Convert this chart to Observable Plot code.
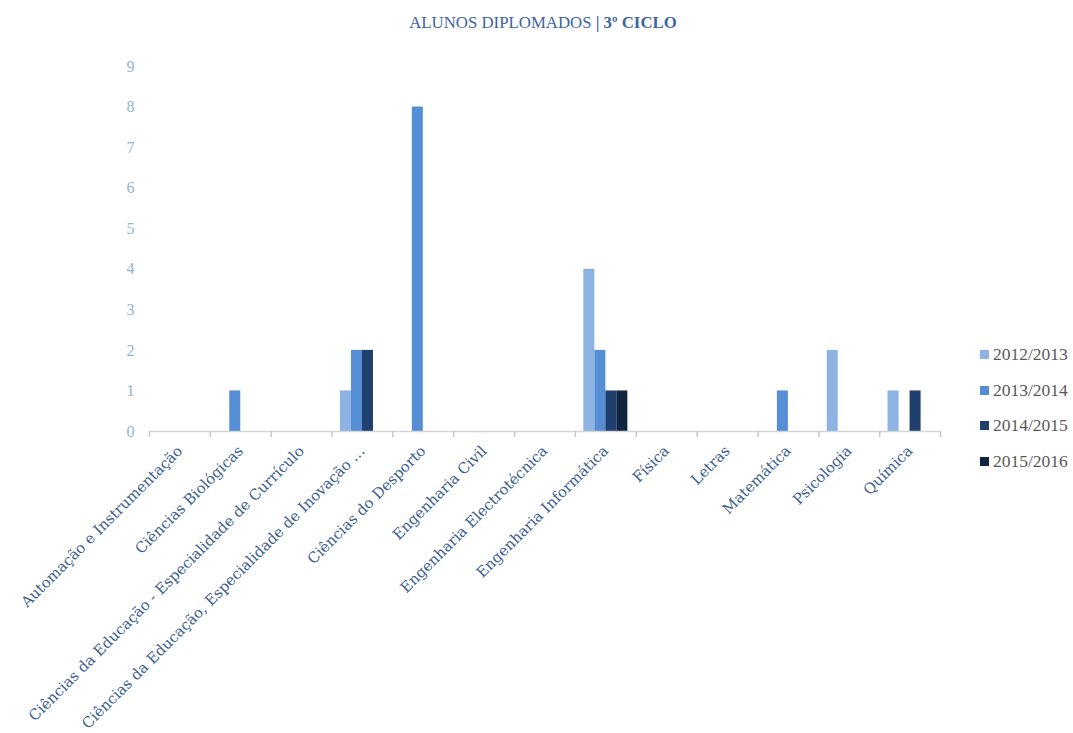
<!DOCTYPE html>
<html>
<head>
<meta charset="utf-8">
<script src="https://cdn.jsdelivr.net/npm/d3@7"></script>
<script src="https://cdn.jsdelivr.net/npm/@observablehq/plot@0.6"></script>
<style>
  html, body { margin: 0; padding: 0; background: #fff; }
  #wrap { position: relative; width: 1073px; height: 733px; overflow: hidden; }
  #title { position: absolute; left: 0; width: 1086px; top: 13px; text-align: center;
           font-family: "Liberation Serif", serif; font-size: 16.8px; color: #3d65a0; }
  #legend { position: absolute; left: 980px; top: 337px; font-family: "Liberation Serif", serif;
            font-size: 17.5px; color: #595959; }
  #legend .item { display: flex; align-items: center; height: 35.5px; }
  #legend .sw { width: 9px; height: 9px; margin-right: 4px; }
  #chart { position: absolute; left: 0; top: 0; }
</style>
</head>
<body>
<div id="wrap">
  <div id="chart"></div>
  <div id="title">ALUNOS DIPLOMADOS <b>| 3º CICLO</b></div>
  <div id="legend"></div>
</div>
<script>
const categories = [
  "Automação e Instrumentação",
  "Ciências Biológicas",
  "Ciências da Educação - Especialidade de Currículo",
  "Ciências da Educação, Especialidade de Inovação …",
  "Ciências do Desporto",
  "Engenharia Civil",
  "Engenharia Electrotécnica",
  "Engenharia Informática",
  "Física",
  "Letras",
  "Matemática",
  "Psicologia",
  "Química"
];
const series = ["2012/2013", "2013/2014", "2014/2015", "2015/2016"];
const values2012 = [0, 0, 0, 1, 0, 0, 0, 4, 0, 0, 0, 2, 1];
const values2013 = [0, 1, 0, 2, 8, 0, 0, 2, 0, 0, 1, 0, 0];
const values2014 = [0, 0, 0, 2, 0, 0, 0, 1, 0, 0, 0, 0, 1];
const values2015 = [0, 0, 0, 0, 0, 0, 0, 1, 0, 0, 0, 0, 0];
const yTicks = [0, 1, 2, 3, 4, 5, 6, 7, 8, 9];
const colors = ["#8db3e2", "#558ed5", "#1f3f6e", "#10243f"];

const seriesValues = [values2012, values2013, values2014, values2015];
const rows = [];
categories.forEach((c, i) => {
  series.forEach((s, j) => {
    rows.push({category: c, series: s, value: seriesValues[j][i]});
  });
});

const W = 1073, H = 733, ML = 149, MR = 133, MT = 66, MB = 302;
const step = (W - ML - MR) / categories.length;

const chart = Plot.plot({
  width: W, height: H,
  marginLeft: ML, marginRight: MR, marginTop: MT, marginBottom: MB,
  style: {fontFamily: "Liberation Serif, serif", background: "transparent", overflow: "visible"},
  fx: {domain: categories, padding: 0, round: false, label: null},
  x: {domain: series, paddingInner: 0, paddingOuter: 0.765, round: false, axis: null},
  y: {domain: [0, 9], label: null},
  color: {domain: series, range: colors},
  marks: [
    Plot.barY(rows, {fx: "category", x: "series", y: "value", fill: "series"}),
    Plot.ruleY([0], {stroke: "#d4d4d4", strokeWidth: 1.5}),
    Plot.axisY({ticks: yTicks, tickSize: 0, tickPadding: 15, fontSize: 16, color: "#95b3d7", label: null, tickFormat: d => String(d)}),
    Plot.axisFx({anchor: "bottom", tickSize: 6, tickFormat: () => "", dx: -step / 2, stroke: "#c8c8c8", strokeWidth: 1.5, label: null}),
    Plot.axisFx({anchor: "bottom", ticks: [categories[categories.length - 1]], tickSize: 6, tickFormat: () => "", dx: step / 2, stroke: "#c8c8c8", strokeWidth: 1.5, label: null}),
    Plot.axisFx({anchor: "bottom", tickSize: 0, tickPadding: 17, tickRotate: -45, fontSize: 14.8, fontFamily: "DejaVu Serif, serif", color: "#3b5f8f", label: null})
  ]
});
document.getElementById("chart").appendChild(chart);

const legend = document.getElementById("legend");
series.forEach((s, i) => {
  const item = document.createElement("div");
  item.className = "item";
  const sw = document.createElement("span");
  sw.className = "sw";
  sw.style.background = colors[i];
  const t = document.createElement("span");
  t.textContent = s;
  item.appendChild(sw);
  item.appendChild(t);
  legend.appendChild(item);
});
</script>
</body>
</html>
